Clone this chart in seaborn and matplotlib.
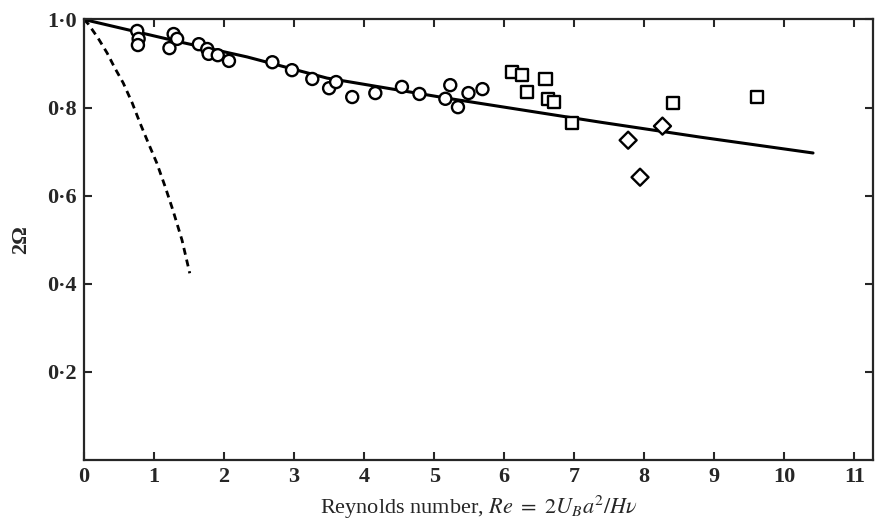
import numpy as np
import pandas as pd
import matplotlib
matplotlib.use('Agg')
import matplotlib.pyplot as plt
import seaborn as sns

sns.set_style('ticks')
plt.rcParams['font.family'] = ['Liberation Serif', 'DejaVu Serif']
plt.rcParams['mathtext.fontset'] = 'stix'

# circles
circ_x = [0.76, 0.78, 0.77, 1.22, 1.28, 1.33, 1.64, 1.76, 1.78, 1.91, 2.07, 2.69, 2.97,
          3.26, 3.50, 3.60, 3.83, 4.16, 4.54, 4.79, 5.16, 5.23, 5.34, 5.49, 5.69]
circ_y = [0.974, 0.956, 0.942, 0.935, 0.967, 0.956, 0.944, 0.933, 0.922, 0.919, 0.906, 0.903, 0.885,
          0.865, 0.844, 0.858, 0.824, 0.833, 0.847, 0.831, 0.820, 0.851, 0.801, 0.833, 0.842]
# squares
sq_x = [6.11, 6.26, 6.33, 6.59, 6.63, 6.71, 6.97, 8.41, 9.61]
sq_y = [0.881, 0.874, 0.835, 0.865, 0.819, 0.812, 0.765, 0.810, 0.824]
# diamonds
dia_x = [7.77, 7.94, 8.26]
dia_y = [0.726, 0.642, 0.758]

# solid curve
solid_x = [0.0, 1.37, 2.33, 3.47, 5.16, 7.37, 8.80, 10.41]
solid_y = [1.0, 0.949, 0.915, 0.867, 0.822, 0.767, 0.733, 0.697]
# dashed curve
dash_x = [0.0, 0.06, 0.20, 0.33, 0.44, 0.56, 0.69, 0.80, 0.92, 1.04, 1.16, 1.27, 1.40, 1.51]
dash_y = [1.0, 0.99, 0.958, 0.924, 0.89, 0.856, 0.81, 0.765, 0.719, 0.674, 0.62, 0.567, 0.499, 0.424]

pts = pd.DataFrame({
    'Re': circ_x + sq_x + dia_x,
    'omega': circ_y + sq_y + dia_y,
    'kind': ['circle'] * len(circ_x) + ['square'] * len(sq_x) + ['diamond'] * len(dia_x),
})

fig = plt.figure(figsize=(8.75, 5.27), dpi=100)
ax = fig.add_axes([0.096, 0.127, 0.902, 0.836])

sns.lineplot(x=solid_x, y=solid_y, ax=ax, color='black', lw=2.2)
sns.lineplot(x=dash_x, y=dash_y, ax=ax, color='black', lw=2.0, linestyle=(0, (2.5, 1.8)))
sns.scatterplot(data=pts, x='Re', y='omega', style='kind',
                markers={'circle': 'o', 'square': 's', 'diamond': 'D'},
                s=75, facecolor='white', edgecolor='black', linewidth=1.7,
                legend=False, ax=ax, zorder=3)

ax.set_xlim(0, 11.27)
ax.set_ylim(0, 1.0)
ax.set_xticks(range(0, 12))
ax.set_xticklabels([str(i) for i in range(0, 12)])
ax.set_yticks([0.2, 0.4, 0.6, 0.8, 1.0])
ax.set_yticklabels(['0·2', '0·4', '0·6', '0·8', '1·0'])
ax.tick_params(direction='in', top=True, right=True, length=6, width=1.5,
               labelsize=16, pad=5)
for lab in ax.get_xticklabels() + ax.get_yticklabels():
    lab.set_fontweight('bold')
for sp in ax.spines.values():
    sp.set_linewidth(1.6)

ax.set_xlabel(r'Reynolds number, $\mathit{Re}\ =\ \mathit{2U_B a^2/H\nu}$', fontsize=16, labelpad=5)
ax.set_ylabel('2Ω', fontsize=16, fontweight='bold', labelpad=12)

fig.savefig('out.png', dpi=100)
